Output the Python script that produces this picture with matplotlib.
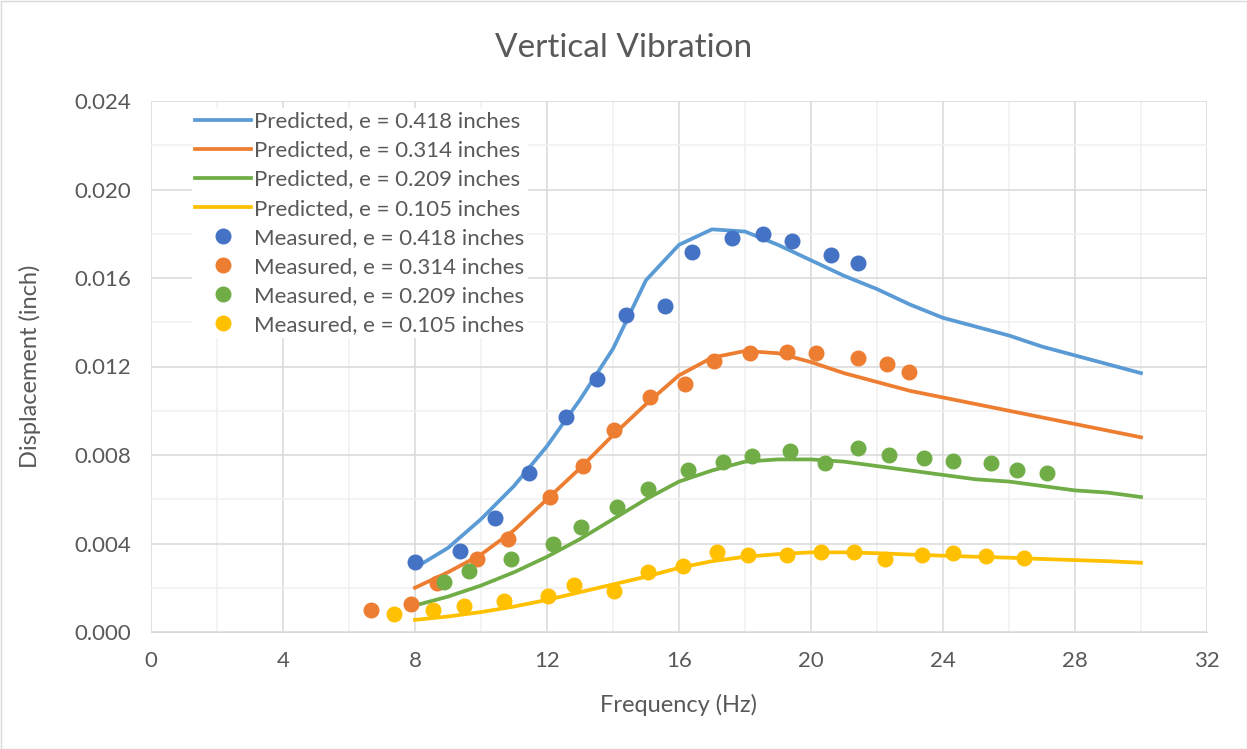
import matplotlib.pyplot as plt
from matplotlib.ticker import MultipleLocator, FormatStrFormatter

# predicted curves, evaluated at 8..30 Hz
freq_pred = list(range(8, 31))
pred_418 = [0.0029, 0.0038, 0.0051, 0.0066, 0.0084, 0.0105, 0.0128, 0.0159, 0.0175, 0.0182,
            0.0181, 0.0175, 0.0168, 0.0161, 0.0155, 0.0148, 0.0142, 0.0138, 0.0134, 0.0129,
            0.0125, 0.0121, 0.0117]
pred_314 = [0.0020, 0.0027, 0.0035, 0.0046, 0.0060, 0.0074, 0.0089, 0.0103, 0.0116, 0.0124,
            0.0127, 0.0126, 0.0122, 0.0117, 0.0113, 0.0109, 0.0106, 0.0103, 0.0100, 0.0097,
            0.0094, 0.0091, 0.0088]
pred_209 = [0.0012, 0.0016, 0.0021, 0.0027, 0.0034, 0.0042, 0.0051, 0.0060, 0.0068, 0.0073,
            0.0077, 0.0078, 0.0078, 0.0077, 0.0075, 0.0073, 0.0071, 0.0069, 0.0068, 0.0066,
            0.0064, 0.0063, 0.0061]
pred_105 = [0.00055, 0.0007, 0.0009, 0.00115, 0.00145, 0.0018, 0.00215, 0.0025, 0.0029, 0.0032,
            0.0034, 0.00352, 0.0036, 0.0036, 0.00356, 0.0035, 0.00345, 0.0034, 0.00336, 0.0033,
            0.00325, 0.0032, 0.00313]

# measured points
f_418 = [8.0, 9.36, 10.42, 11.45, 12.57, 13.51, 14.38, 15.59, 16.39, 17.6, 18.54, 19.42, 20.61, 21.43]
m_418 = [0.00317, 0.00365, 0.00513, 0.00719, 0.00971, 0.01144, 0.01431, 0.01475, 0.01716,
         0.0178, 0.01798, 0.01765, 0.01705, 0.01668]
f_314 = [6.67, 7.89, 8.68, 9.88, 10.82, 12.1, 13.1, 14.04, 15.13, 16.19, 17.06, 18.14, 19.28,
         20.15, 21.43, 22.31, 22.98]
m_314 = [0.00099, 0.00125, 0.00223, 0.00328, 0.0042, 0.0061, 0.0075, 0.00914, 0.01062, 0.01122,
         0.01227, 0.01262, 0.01265, 0.0126, 0.01237, 0.01211, 0.01177]
f_209 = [8.87, 9.63, 10.9, 12.18, 13.04, 14.13, 15.05, 16.26, 17.33, 18.22, 19.36, 20.42, 21.43,
         22.37, 23.43, 24.31, 25.44, 26.25, 27.14]
m_209 = [0.00224, 0.00275, 0.00328, 0.0040, 0.00475, 0.00565, 0.00648, 0.00731, 0.00768, 0.00795,
         0.00816, 0.00765, 0.00832, 0.0080, 0.00788, 0.00774, 0.00762, 0.00732, 0.00717]
f_105 = [7.37, 8.56, 9.49, 10.69, 12.03, 12.83, 14.04, 15.05, 16.13, 17.15, 18.1, 19.28, 20.3,
         21.3, 22.24, 23.37, 24.31, 25.3, 26.45]
m_105 = [0.0008, 0.00099, 0.00117, 0.00141, 0.00164, 0.00212, 0.00185, 0.00269, 0.00299, 0.00363,
         0.00348, 0.00348, 0.00362, 0.0036, 0.0033, 0.00348, 0.00356, 0.00344, 0.00333]

labels_e = ["0.418", "0.314", "0.209", "0.105"]
line_colors = ["#5B9BD5", "#ED7D31", "#70AD47", "#FFC000"]
dot_colors = ["#4472C4", "#ED7D31", "#70AD47", "#FFC000"]

plt.rcParams['font.family'] = ['Lato', 'DejaVu Sans']
txt = "#595959"

fig = plt.figure(figsize=(12.47, 7.49), dpi=100)
ax = fig.add_axes([151/1247, 117/749, 1056/1247, 531/749])

for y, c, e in zip([pred_418, pred_314, pred_209, pred_105], line_colors, labels_e):
    ax.plot(freq_pred, y, color=c, lw=2.7, label=f"Predicted, e = {e} inches", zorder=3,
            solid_joinstyle='round')
for f, m, c, e in zip([f_418, f_314, f_209, f_105], [m_418, m_314, m_209, m_105], dot_colors, labels_e):
    ax.plot(f, m, 'o', color=c, ms=10.5, label=f"Measured, e = {e} inches", zorder=4)

ax.set_xlim(0, 32); ax.set_ylim(0, 0.024)
ax.xaxis.set_major_locator(MultipleLocator(4)); ax.xaxis.set_minor_locator(MultipleLocator(2))
ax.yaxis.set_major_locator(MultipleLocator(0.004)); ax.yaxis.set_minor_locator(MultipleLocator(0.002))
ax.yaxis.set_major_formatter(FormatStrFormatter('%.3f'))
ax.grid(which='major', color='#d9d9d9', lw=1.1, zorder=0)
ax.grid(which='minor', color='#f0f0f0', lw=1.1, zorder=0)
ax.set_axisbelow(True)
for s in ['top', 'right', 'left']:
    ax.spines[s].set_visible(False)
ax.spines['bottom'].set_color('#d9d9d9')
ax.tick_params(which='both', length=0, labelsize=16, colors=txt)
ax.tick_params(axis='x', pad=14)
ax.tick_params(axis='y', pad=14)
ax.set_xlabel("Frequency (Hz)", fontsize=17, color=txt, labelpad=16)
ax.set_ylabel("Displacement (inch)", fontsize=17, color=txt, labelpad=24)
fig.text(0.5, 1 - 48/749, "Vertical Vibration", ha='center', va='center', fontsize=24, color=txt)

leg = ax.legend(loc='upper left', bbox_to_anchor=(192/1247, 1 - 108/749), bbox_transform=fig.transFigure,
                borderaxespad=0, frameon=True, fontsize=16, handlelength=2.5, handletextpad=0.15,
                labelspacing=0.41, borderpad=0.15, fancybox=False, edgecolor='none', framealpha=1.0,
                numpoints=1)
for t in leg.get_texts():
    t.set_color(txt)

fig.patches.append(plt.Rectangle((0.5/1247, 0.5/749), 1 - 1/1247, 1 - 1/749, transform=fig.transFigure,
                                 fill=False, edgecolor='#d9d9d9', lw=1))
fig.savefig("out.png", dpi=100)
